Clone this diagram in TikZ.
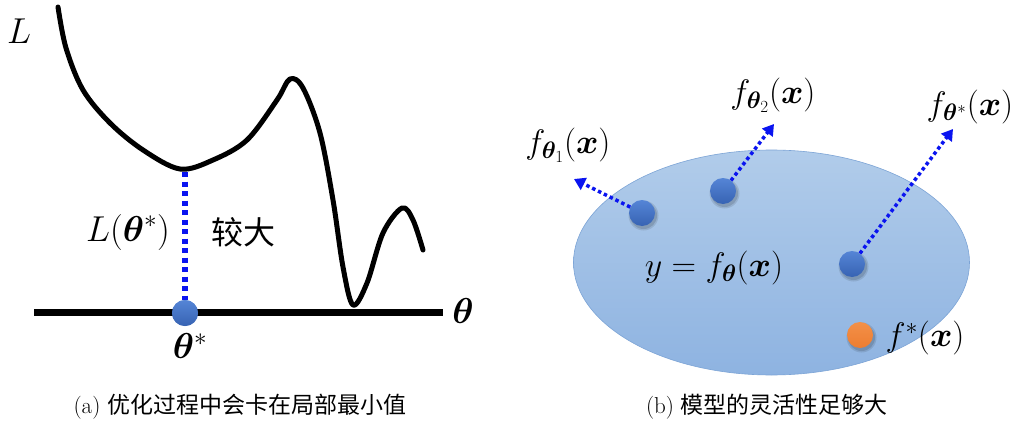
\RequirePackage{fix-cm}
\documentclass[tikz,border=0pt]{standalone}
\usepackage{fontspec}
\usepackage{amsmath,bm}
\newfontfamily\cjk{Noto Sans CJK SC}
\usetikzlibrary{arrows.meta,calc}
\definecolor{dotblue}{HTML}{4472C4}
\definecolor{dotblueL}{HTML}{5585D6}
\definecolor{dotblueD}{HTML}{3763B3}
\definecolor{dotorange}{HTML}{ED7D31}
\definecolor{dotorangeL}{HTML}{F39048}
\definecolor{elltop}{HTML}{B1CCEA}
\definecolor{ellbot}{HTML}{8EB3E1}
\definecolor{elledge}{HTML}{7CA4D6}
\definecolor{linkblue}{HTML}{0A14F0}
\tikzset{
  big/.style={font=\fontsize{36}{38}\selectfont},
  mid/.style={font=\fontsize{34}{36}\selectfont},
  captext/.style={font=\fontsize{23}{25}\selectfont},
  curve/.style={line width=5pt, line cap=round, line join=round},
  axisline/.style={line width=7pt},
  ball/.style={circle, minimum size=26pt, inner sep=0pt, top color=dotblueL, bottom color=dotblueD, draw=none},
  oball/.style={circle, minimum size=26pt, inner sep=0pt, top color=dotorangeL, bottom color=dotorange, draw=none},
  vdots/.style={linkblue, line width=5.5pt, dash pattern=on 5pt off 4.5pt},
  pointer/.style={linkblue, line width=3.5pt, dash pattern=on 3.5pt off 3pt, -{Triangle[length=11pt,width=13pt]}},
}
\newcommand{\shadowball}[1]{%
  \fill[black,opacity=0.10] ($(#1)+(1.5,2.5)$) circle (15pt);
  \fill[black,opacity=0.12] ($(#1)+(1.5,2.5)$) circle (13.5pt);
}
\begin{document}
\begin{tikzpicture}[x=1pt,y=-1pt]
\useasboundingbox (0,0) rectangle (1026,423);
\fill[white] (0,0) rectangle (1026,423);

% ---------- left panel ----------
\node[big] (Lax) at (19,31) {$L$};
\draw[curve] plot[smooth, tension=0.55] coordinates {
 (58,7) (66,48) (83,90) (110,123) (143,150) (180,169) (213,160) (247,140)
 (277,100) (290,79) (303,88) (320,133) (333,200) (343,267) (353,305)
 (367,283) (383,233) (402,208) (413,220) (423,250)};
\coordinate (axL) at (34,312);
\coordinate (axR) at (443,312);
\draw[axisline] (axL) -- (axR);
\node[big] (thax) at (463,311) {$\bm{\theta}$};
\coordinate (lmin) at (185,172);
\node[ball] (ts) at (185,313) {};
\draw[vdots] (lmin) -- (ts.north);
\node[ball] at (ts) {};
\node[big] (tslab) at (190,346) {$\bm{\theta}^{*}$};
\node[big] (Lts) at (128,232) {$L(\bm{\theta}^{*})$};
\node[font=\fontsize{32}{34}\selectfont\cjk] (jd) at (243,232) {较大};
\node[captext] (capa) at (240,407) {(a) {\cjk 优化过程中会卡在局部最小值}};

% ---------- right panel ----------
\shade[top color=elltop, bottom color=ellbot, draw=elledge, line width=0.6pt]
  (771.5,262.5) ellipse [x radius=198, y radius=112.5];
\node (ell) at (771.5,262.5) {};
\coordinate (s1) at (642,213);
\coordinate (s2) at (723,191);
\coordinate (s3) at (852,264);
\coordinate (s4) at (860,335);
\shadowball{s1}
\shadowball{s2}
\shadowball{s3}
\shadowball{s4}
\node[ball] (d1) at (s1) {};
\node[ball] (d2) at (s2) {};
\node[ball] (d3) at (s3) {};
\node[oball] (d4) at (s4) {};
\coordinate (e1) at (574,179);
\coordinate (e2) at (774,124);
\coordinate (e3) at (953,129);
\draw[pointer] (d1) -- (e1);
\draw[pointer] (d2) -- (e2);
\draw[pointer] (d3) -- (e3);
\node[mid] (l1) at (568,145) {$f_{\bm{\theta}_1}(\bm{x})$};
\node[mid] (l2) at (773,95) {$f_{\bm{\theta}_2}(\bm{x})$};
\node[mid] (l3) at (970,107) {$f_{\bm{\theta}^{*}}(\bm{x})$};
\node[mid] (ly) at (714,268) {$y = f_{\bm{\theta}}(\bm{x})$};
\node[mid] (l4) at (925,338) {$f^{*}(\bm{x})$};
\node[captext] (capb) at (767,407) {(b) {\cjk 模型的灵活性足够大}};
\end{tikzpicture}
\end{document}
